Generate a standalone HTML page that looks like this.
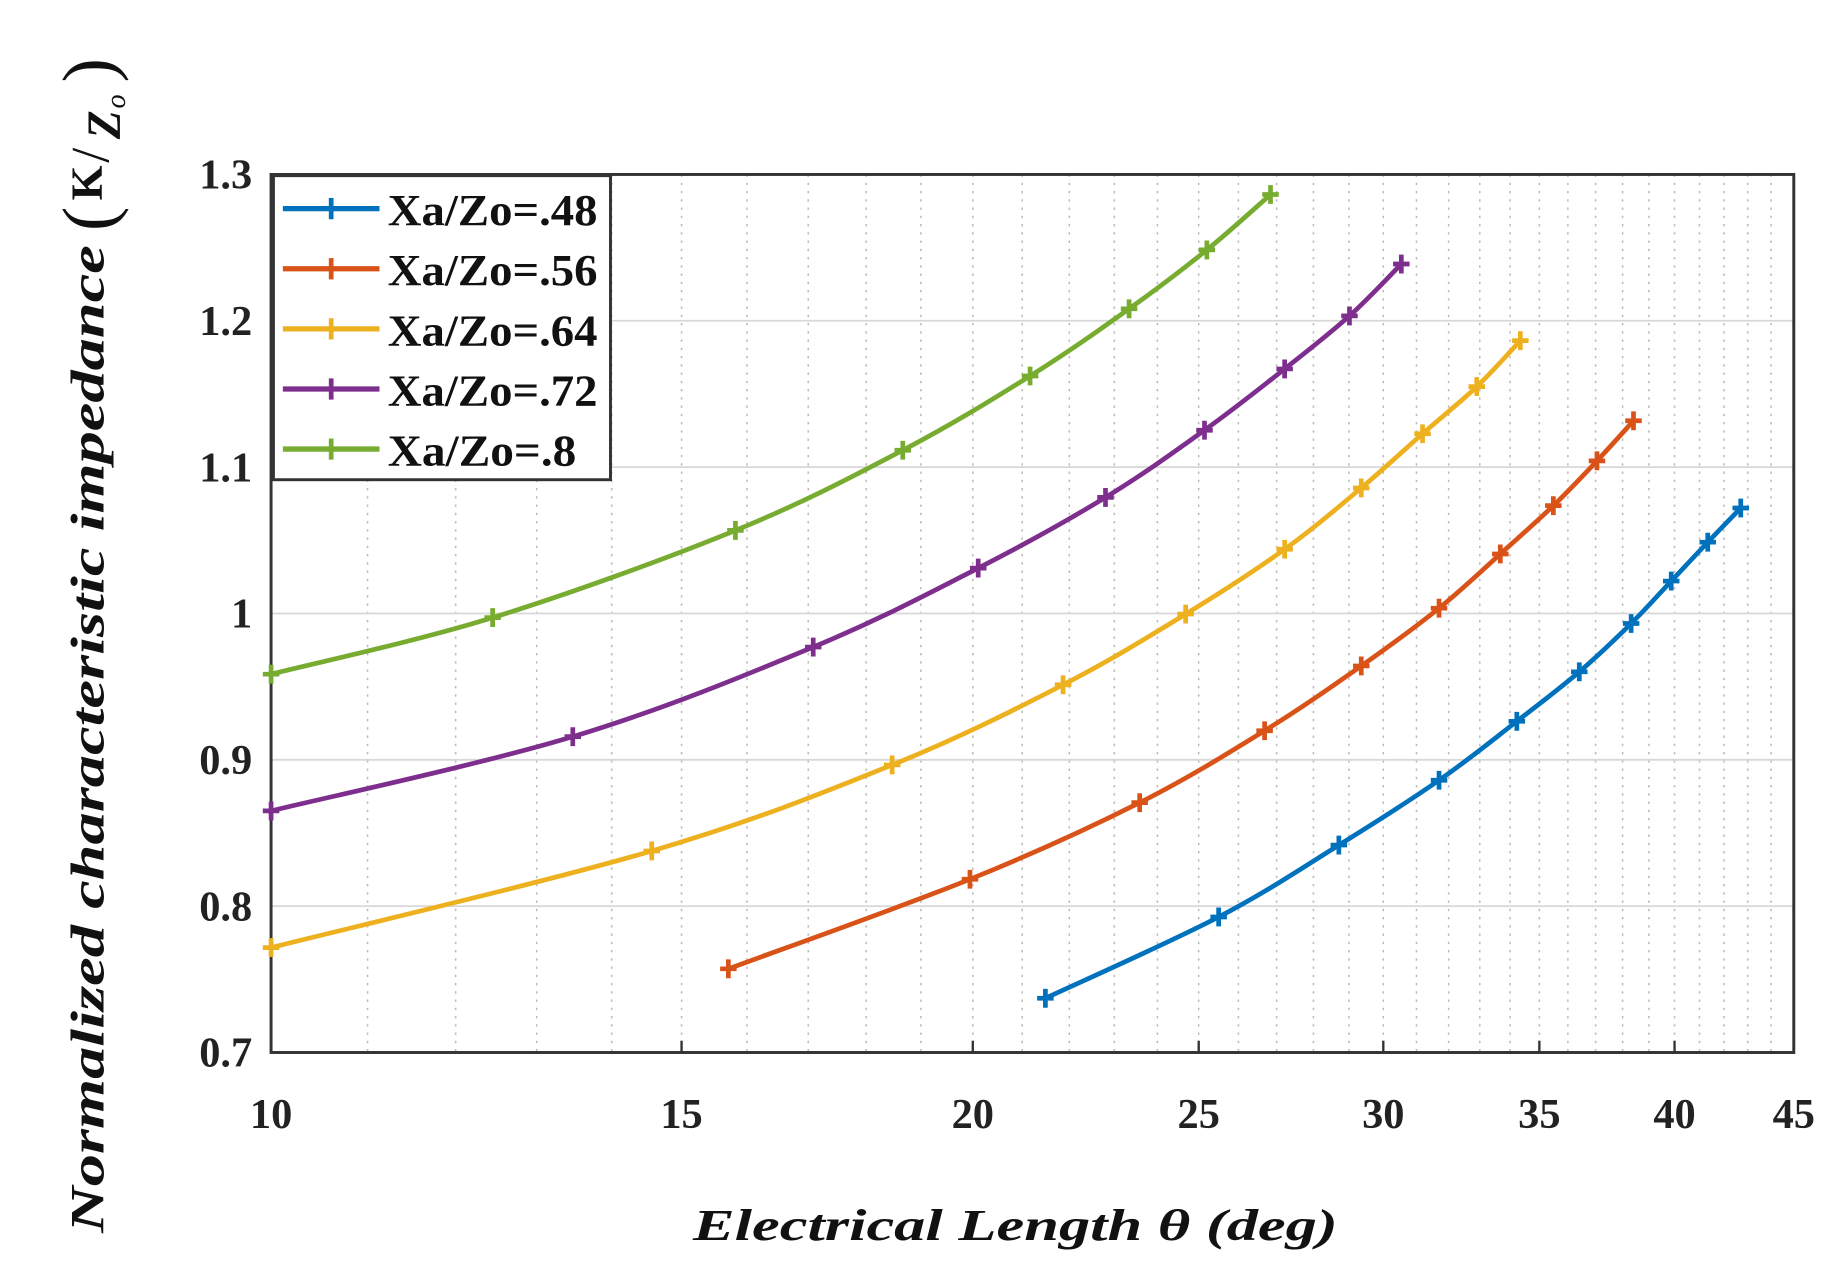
<!DOCTYPE html>
<html><head><meta charset="utf-8"><style>
html,body{margin:0;padding:0;background:#fff;}
svg{display:block;}
text{font-family:"Liberation Serif",serif;}
</style></head><body>
<svg id="s" width="1848" height="1280" viewBox="0 0 1568 1086" xmlns="http://www.w3.org/2000/svg">
<rect width="1568" height="1086" fill="#fff"/>
<g id="grid"></g>
<rect x="230" y="148" width="1292" height="745" fill="none" stroke="#333" stroke-width="2.5"/>
<g id="series"></g>
<g id="ticks" font-size="36" font-weight="bold" fill="#222"></g>
<rect x="232" y="149" width="286" height="258" fill="#fff" stroke="#333" stroke-width="2.5"/>
<g font-size="38" font-weight="bold" fill="#111" id="leg"></g>
<text x="588" y="1052" font-size="38" font-weight="bold" font-style="italic" textLength="547" lengthAdjust="spacingAndGlyphs" fill="#111">Electrical Length θ (deg)</text>
<text transform="translate(88,1046) rotate(-90)" font-size="40" font-weight="bold" font-style="italic" textLength="838" lengthAdjust="spacingAndGlyphs" fill="#111">Normalized characteristic impedance</text>
<g transform="translate(90,196) rotate(-90)" fill="#111">
<text x="0" y="6" font-size="62">(</text>
<text x="26" y="-4" font-size="38" font-weight="bold">K</text>
<text x="58" y="2" font-size="46">/</text>
<text x="78" y="12" font-size="40" font-style="italic" font-weight="bold">Z</text>
<text x="104" y="16" font-size="24" font-style="italic">o</text>
<text x="126" y="6" font-size="62">)</text>
</g>
</svg>
<script>
const NS="http://www.w3.org/2000/svg";
function el(t,a,p){const e=document.createElementNS(NS,t);for(const k in a)e.setAttribute(k,a[k]);p.appendChild(e);return e;}
const X=t=>230+1292*Math.log(t/10)/Math.log(4.5);
const g=document.getElementById('grid');
for(let t=11;t<45;t++){const x=X(t);el('line',{x1:x,x2:x,y1:148,y2:893,stroke:'#bbb','stroke-width':1.3,'stroke-dasharray':'2,5'},g);}
for(let i=1;i<6;i++){const y=893-i*124.17;el('line',{x1:230,x2:1522,y1:y,y2:y,stroke:'#d8d8d8','stroke-width':1.5},g);}
const tk=document.getElementById('ticks');
[10,15,20,25,30,35,40,45].forEach(t=>{const x=X(t);const e=el('text',{x:x,y:957,'text-anchor':'middle'},tk);e.textContent=t;
el('line',{x1:x,x2:x,y1:893,y2:883,stroke:'#333','stroke-width':2},g);});
['0.7','0.8','0.9','1','1.1','1.2','1.3'].forEach((l,i)=>{const y=893-i*124.17;const e=el('text',{x:214,y:y+12,'text-anchor':'end'},tk);e.textContent=l;});
const S=[
['#0072BD',[[887,847],[1034,778],[1136,717],[1221,662],[1287,612],[1340,570],[1384,529],[1418,493],[1449,460],[1477,431]]],
['#D95319',[[618,822],[823,746],[967,681],[1073,620],[1155,565],[1221,516],[1273,470],[1318,429],[1355,391],[1386,357]]],
['#EDB120',[[230,804],[553,722],[757,649],[902,581],[1006,521],[1090,466],[1155,414],[1207,368],[1253,328],[1290,289]]],
['#7E2F8E',[[230,688],[486,625],[690,549],[830,482],[938,422],[1022,365],[1090,313],[1145,268],[1189,224]]],
['#77AC30',[[230,572],[418,524],[624,450],[766,382],[874,319],[958,262],[1024,212],[1078,165]]]];
const sg=document.getElementById('series');
function smooth(p){let d='M'+p[0][0]+','+p[0][1];for(let i=0;i<p.length-1;i++){const p0=p[i-1]||p[i],p1=p[i],p2=p[i+1],p3=p[i+2]||p2;
d+=' C'+(p1[0]+(p2[0]-p0[0])/6)+','+(p1[1]+(p2[1]-p0[1])/6)+' '+(p2[0]-(p3[0]-p1[0])/6)+','+(p2[1]-(p3[1]-p1[1])/6)+' '+p2[0]+','+p2[1];}return d;}
S.forEach(([c,p])=>{el('path',{d:smooth(p),fill:'none',stroke:c,'stroke-width':4,'stroke-linejoin':'round'},sg);
p.forEach(([x,y])=>{el('path',{d:`M${x-7},${y}H${x+7}M${x},${y-8}V${y+8}`,stroke:c,'stroke-width':4},sg);});});
const lg=document.getElementById('leg');
['.48','.56','.64','.72','.8'].forEach((v,i)=>{const y=177+i*51;const c=S[i][0];
el('line',{x1:240,x2:322,y1:y,y2:y,stroke:c,'stroke-width':4.5},lg);
el('path',{d:`M281,${y-9}V${y+9}M274,${y}H288`,stroke:c,'stroke-width':4},lg);
const t=el('text',{x:329,y:y+14,textLength:v.length>2?178:160,lengthAdjust:'spacingAndGlyphs'},lg);t.textContent='Xa/Zo='+v;});
</script>
</body></html>
